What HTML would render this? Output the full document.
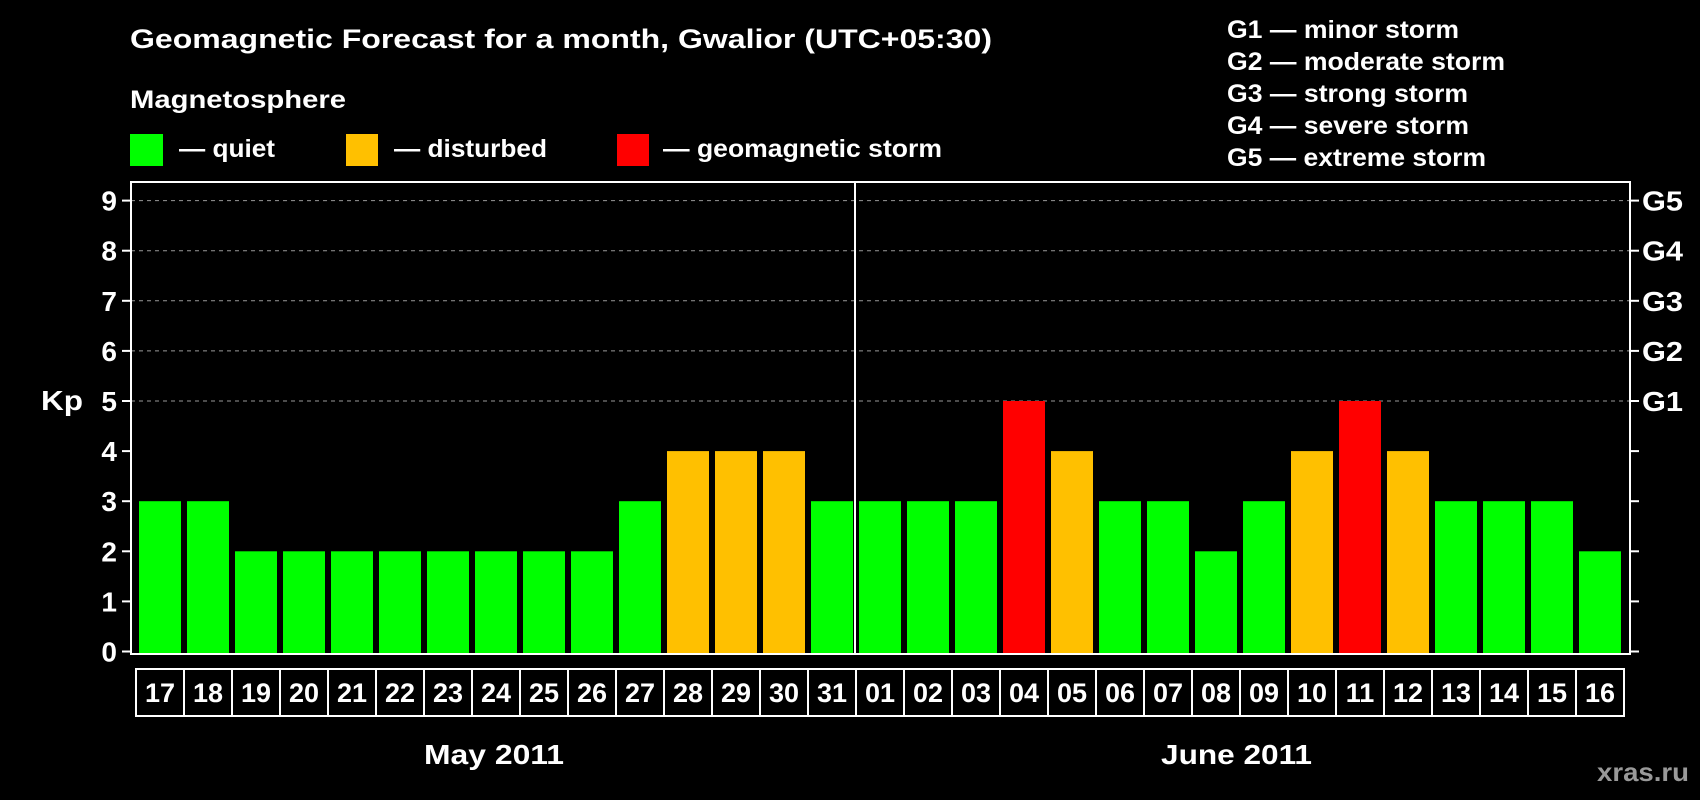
<!DOCTYPE html>
<html><head><meta charset="utf-8"><style>
html,body{margin:0;padding:0;background:#000;}
svg{display:block;font-family:"Liberation Sans",Arial,sans-serif;font-weight:bold;}
</style></head><body>
<svg id="chart" width="1700" height="800" viewBox="0 0 1700 800">
<text x="130" y="48" fill="#fff" font-size="27" textLength="862" lengthAdjust="spacingAndGlyphs">Geomagnetic Forecast for a month, Gwalior (UTC+05:30)</text>
<text x="130" y="108" fill="#fff" font-size="25" textLength="216" lengthAdjust="spacingAndGlyphs">Magnetosphere</text>
<rect x="130" y="134" width="33" height="32" fill="#00ff00"/>
<text x="179" y="157" fill="#fff" font-size="25" textLength="96" lengthAdjust="spacingAndGlyphs">— quiet</text>
<rect x="346" y="134" width="32" height="32" fill="#ffc000"/>
<text x="394" y="157" fill="#fff" font-size="25" textLength="153" lengthAdjust="spacingAndGlyphs">— disturbed</text>
<rect x="617" y="134" width="32" height="32" fill="#ff0000"/>
<text x="663" y="157" fill="#fff" font-size="25" textLength="279" lengthAdjust="spacingAndGlyphs">— geomagnetic storm</text>
<g fill="#fff" font-size="25">
<text x="1227" y="38" textLength="232" lengthAdjust="spacingAndGlyphs">G1 — minor storm</text>
<text x="1227" y="70" textLength="278" lengthAdjust="spacingAndGlyphs">G2 — moderate storm</text>
<text x="1227" y="102" textLength="241" lengthAdjust="spacingAndGlyphs">G3 — strong storm</text>
<text x="1227" y="134" textLength="242" lengthAdjust="spacingAndGlyphs">G4 — severe storm</text>
<text x="1227" y="166" textLength="259" lengthAdjust="spacingAndGlyphs">G5 — extreme storm</text>
</g>
<text x="41" y="410" fill="#fff" font-size="28" textLength="42" lengthAdjust="spacingAndGlyphs">Kp</text>
<g id="grid"></g>
<g id="bars"></g>
<g id="dates"></g>
<rect x="131" y="182" width="1499" height="472" fill="none" stroke="#fff" stroke-width="2"/>
<line x1="855" y1="182" x2="855" y2="654" stroke="#fff" stroke-width="2"/>
<text x="424" y="764" fill="#fff" font-size="28" textLength="140" lengthAdjust="spacingAndGlyphs">May 2011</text>
<text x="1161" y="764" fill="#fff" font-size="28" textLength="151" lengthAdjust="spacingAndGlyphs">June 2011</text>
<text x="1597" y="781" fill="#999" font-size="26" textLength="92" lengthAdjust="spacingAndGlyphs">xras.ru</text>
</svg>
<script>
const days = ["17","18","19","20","21","22","23","24","25","26","27","28","29","30","31","01","02","03","04","05","06","07","08","09","10","11","12","13","14","15","16"];
const kpValues = [3,3,2,2,2,2,2,2,2,2,3,4,4,4,3,3,3,3,5,4,3,3,2,3,4,5,4,3,3,3,2];
const yTicks = [0,1,2,3,4,5,6,7,8,9];
const gLabels = ["","","","","","G1","G2","G3","G4","G5"];
const NS = "http://www.w3.org/2000/svg";
const y0 = 651.5, unit = 50.1, x0 = 139, step = 48, bw = 42, bottom = 654;
const yScale = v => y0 - v * unit;
const xScale = i => x0 + i * step;
const color = v => v >= 5 ? "#ff0000" : (v === 4 ? "#ffc000" : "#00ff00");
function mk(tag, attrs, parent){const e=document.createElementNS(NS,tag);for(const k in attrs)e.setAttribute(k,attrs[k]);parent.appendChild(e);return e;}
const grid = document.getElementById("grid");
yTicks.forEach((t,i)=>{
  const y = yScale(t);
  let l = mk("line",{x1:122,x2:131,y1:y,y2:y,stroke:"#fff","stroke-width":2},grid);
  
  
  let r = mk("line",{x1:1630,x2:1639,y1:y,y2:y,stroke:"#fff","stroke-width":2},grid);
  
  
  let tx = mk("text",{x:117,y:y+10,fill:"#fff","font-size":28,"text-anchor":"end"},grid);
  tx.textContent = t;
  
  
  if (gLabels[i]) {
    let g = mk("line",{x1:131,x2:1630,y1:y,y2:y,stroke:"#999","stroke-width":1,"stroke-dasharray":"4,4"},grid);
    
    
    let gt = mk("text",{x:1642,y:y+10,fill:"#fff","font-size":28,textLength:41,lengthAdjust:"spacingAndGlyphs"},grid);
    gt.textContent = gLabels[i];
    
    
  }
});
const bars = document.getElementById("bars"), dates = document.getElementById("dates");
kpValues.forEach((v,i)=>{
  const x = xScale(i), y = yScale(v);
  let b = mk("rect",{x:x,y:y,width:bw,height:bottom-y,fill:color(v)},bars);
  
  
  let c = mk("rect",{x:x-3,y:669,width:step,height:47,fill:"none",stroke:"#fff","stroke-width":2},dates);
  
  
  let t = mk("text",{x:x+bw/2,y:702,fill:"#fff","font-size":27,"text-anchor":"middle"},dates);
  t.textContent = days[i];
  
  
});
</script>
</body></html>
